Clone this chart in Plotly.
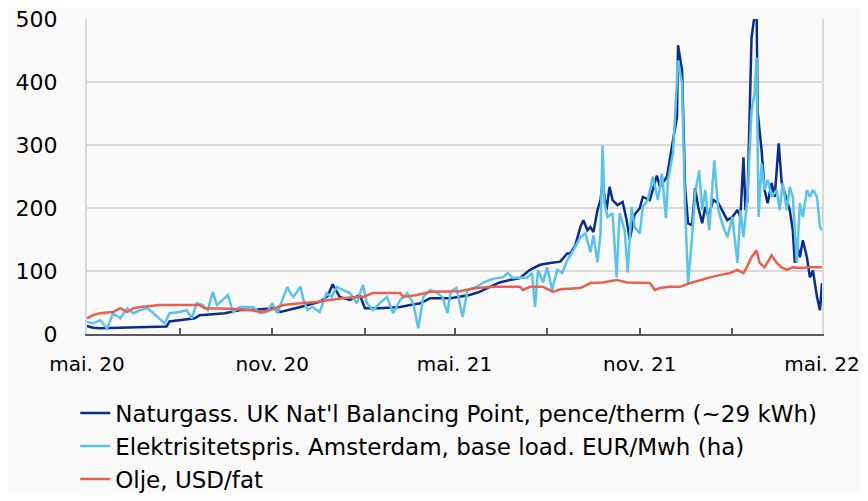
import plotly.graph_objects as go

# ---- Data ----
gas_dates = [
    "2020-05-01", "2020-05-07", "2020-05-14", "2020-06-03", "2020-06-23", "2020-07-12", "2020-07-19",
    "2020-07-22", "2020-08-01", "2020-08-16", "2020-08-21", "2020-09-15", "2020-09-30", "2020-10-10",
    "2020-11-01", "2020-11-09", "2020-11-29", "2020-12-18", "2020-12-26", "2020-12-31", "2021-01-07",
    "2021-01-17", "2021-01-27", "2021-02-01", "2021-02-16", "2021-03-08", "2021-03-18", "2021-03-28",
    "2021-04-07", "2021-04-27", "2021-05-16", "2021-05-26", "2021-06-05", "2021-06-15", "2021-06-25",
    "2021-07-05", "2021-07-15", "2021-07-25", "2021-08-04", "2021-08-14", "2021-08-21", "2021-08-24",
    "2021-08-29", "2021-09-03", "2021-09-06", "2021-09-10", "2021-09-13", "2021-09-16", "2021-09-20",
    "2021-09-23", "2021-09-25", "2021-09-29", "2021-10-02", "2021-10-05", "2021-10-10", "2021-10-15",
    "2021-10-19", "2021-10-22", "2021-10-27", "2021-11-01", "2021-11-04", "2021-11-11", "2021-11-18",
    "2021-11-21", "2021-11-28", "2021-12-01", "2021-12-04", "2021-12-08", "2021-12-09", "2021-12-13",
    "2021-12-14", "2021-12-16", "2021-12-19", "2021-12-23", "2021-12-26", "2021-12-29", "2022-01-02",
    "2022-01-05", "2022-01-08", "2022-01-13", "2022-01-18", "2022-01-22", "2022-01-27", "2022-02-01",
    "2022-02-06", "2022-02-09", "2022-02-12", "2022-02-14", "2022-02-16", "2022-02-20", "2022-02-23",
    "2022-02-25", "2022-02-26", "2022-03-02", "2022-03-05", "2022-03-08", "2022-03-12", "2022-03-15",
    "2022-03-19", "2022-03-22", "2022-03-25", "2022-03-30", "2022-04-02", "2022-04-04", "2022-04-06",
    "2022-04-09", "2022-04-12", "2022-04-16", "2022-04-19", "2022-04-22", "2022-04-26", "2022-04-29",
    "2022-05-01",
]
gas_values = [
    13, 10, 9, 10, 11, 11, 12,
    20, 22, 25, 30, 33, 38, 38,
    41, 35, 43, 51, 60, 79, 59,
    54, 62, 41, 41, 43, 46, 49,
    57, 57, 62, 67, 75, 82, 86,
    89, 102, 110, 113, 115, 128, 128,
    141, 170, 181, 165, 170, 162, 197,
    213, 240, 197, 234, 213, 205, 210,
    181, 150, 190, 200, 218, 213, 252,
    234, 250, 276, 308, 345, 459, 419,
    355, 233, 176, 173, 232, 202, 176,
    202, 186, 213, 208, 197, 181, 186,
    197, 186, 281, 197, 213, 471, 503,
    530, 355, 292, 229, 208, 240, 218,
    303, 240, 224, 197, 165, 113, 144,
    122, 149, 122, 90, 101, 59, 38,
    81,
]

el_dates = [
    "2020-05-01", "2020-05-07", "2020-05-14", "2020-05-21", "2020-05-27", "2020-06-03", "2020-06-10",
    "2020-06-16", "2020-06-23", "2020-06-30", "2020-07-06", "2020-07-12", "2020-07-17", "2020-07-22",
    "2020-08-01", "2020-08-08", "2020-08-13", "2020-08-18", "2020-08-24", "2020-08-29", "2020-09-03",
    "2020-09-07", "2020-09-12", "2020-09-18", "2020-09-23", "2020-09-30", "2020-10-13", "2020-10-20",
    "2020-10-27", "2020-11-01", "2020-11-06", "2020-11-16", "2020-11-19", "2020-11-22", "2020-11-29",
    "2020-12-02", "2020-12-06", "2020-12-11", "2020-12-18", "2020-12-25", "2020-12-30", "2021-01-04",
    "2021-01-10", "2021-01-17", "2021-01-24", "2021-01-30", "2021-02-03", "2021-02-09", "2021-02-16",
    "2021-02-23", "2021-03-01", "2021-03-08", "2021-03-15", "2021-03-21", "2021-03-26", "2021-03-31",
    "2021-04-07", "2021-04-14", "2021-04-19", "2021-04-24", "2021-04-27", "2021-05-03", "2021-05-09",
    "2021-05-14", "2021-05-23", "2021-05-29", "2021-06-05", "2021-06-12", "2021-06-18", "2021-06-23",
    "2021-06-28", "2021-07-05", "2021-07-12", "2021-07-17", "2021-07-20", "2021-07-23", "2021-07-28",
    "2021-08-01", "2021-08-06", "2021-08-11", "2021-08-16", "2021-08-21", "2021-08-27", "2021-09-03",
    "2021-09-08", "2021-09-13", "2021-09-16", "2021-09-20", "2021-09-23", "2021-09-25", "2021-09-27",
    "2021-09-30", "2021-10-05", "2021-10-09", "2021-10-12", "2021-10-17", "2021-10-20", "2021-10-24",
    "2021-10-27", "2021-11-01", "2021-11-04", "2021-11-09", "2021-11-14", "2021-11-19", "2021-11-23",
    "2021-11-27", "2021-11-29", "2021-12-04", "2021-12-09", "2021-12-13", "2021-12-16", "2021-12-19",
    "2021-12-23", "2021-12-26", "2021-12-30", "2022-01-02", "2022-01-05", "2022-01-09", "2022-01-14",
    "2022-01-18", "2022-01-23", "2022-01-27", "2022-02-01", "2022-02-06", "2022-02-09", "2022-02-12",
    "2022-02-16", "2022-02-20", "2022-02-23", "2022-02-25", "2022-02-27", "2022-03-02", "2022-03-05",
    "2022-03-08", "2022-03-12", "2022-03-17", "2022-03-20", "2022-03-23", "2022-03-27", "2022-03-30",
    "2022-04-02", "2022-04-06", "2022-04-09", "2022-04-12", "2022-04-16", "2022-04-19", "2022-04-22",
    "2022-04-26", "2022-04-29", "2022-05-01",
]
el_values = [
    19, 17, 22, 9, 33, 25, 41,
    33, 38, 41, 33, 25, 17, 33,
    35, 38, 25, 49, 46, 38, 67,
    46, 54, 62, 35, 43, 43, 33,
    35, 49, 33, 75, 65, 59, 75,
    54, 38, 43, 35, 65, 59, 75,
    70, 65, 49, 78, 49, 38, 49,
    59, 33, 54, 65, 49, 9, 59,
    70, 65, 59, 33, 67, 73, 27,
    70, 75, 81, 86, 89, 90, 97,
    89, 90, 89, 97, 43, 102, 82,
    106, 70, 102, 97, 117, 133, 154,
    160, 130, 157, 114, 160, 300, 208,
    186, 192, 90, 192, 165, 98, 202,
    170, 160, 202, 213, 250, 213, 255,
    184, 245, 287, 435, 398, 202, 81,
    154, 224, 260, 197, 229, 165, 276,
    197, 170, 154, 186, 113, 197, 154,
    218, 355, 382, 440, 186, 271, 229,
    245, 218, 229, 197, 240, 197, 234,
    218, 113, 208, 186, 229, 218, 229,
    218, 170, 165,
]

oil_dates = [
    "2020-05-01", "2020-05-07", "2020-05-14", "2020-05-27", "2020-06-03", "2020-06-10", "2020-06-16",
    "2020-06-23", "2020-07-12", "2020-08-21", "2020-08-26", "2020-09-20", "2020-10-10", "2020-10-20",
    "2020-10-30", "2020-11-12", "2020-11-29", "2020-12-15", "2020-12-28", "2021-01-10", "2021-01-24",
    "2021-01-30", "2021-02-09", "2021-03-08", "2021-03-11", "2021-03-25", "2021-04-07", "2021-05-06",
    "2021-05-23", "2021-06-08", "2021-07-05", "2021-07-08", "2021-07-15", "2021-07-28", "2021-08-07",
    "2021-08-14", "2021-09-03", "2021-09-13", "2021-09-25", "2021-10-09", "2021-10-19", "2021-11-11",
    "2021-11-16", "2021-11-21", "2021-12-01", "2021-12-11", "2021-12-21", "2021-12-31", "2022-01-10",
    "2022-01-20", "2022-01-30", "2022-02-06", "2022-02-12", "2022-02-15", "2022-02-20", "2022-02-25",
    "2022-02-28", "2022-03-05", "2022-03-12", "2022-03-17", "2022-03-22", "2022-03-27", "2022-04-02",
    "2022-04-09", "2022-04-19", "2022-05-01",
]
oil_values = [
    25, 30, 33, 35, 41, 35, 41,
    43, 46, 46, 41, 40, 38, 35,
    38, 46, 49, 51, 54, 57, 59,
    59, 65, 65, 59, 62, 67, 68,
    73, 75, 75, 70, 75, 75, 67,
    71, 73, 81, 82, 86, 82, 81,
    70, 73, 75, 75, 81, 86, 90,
    94, 97, 102, 97, 105, 122, 133,
    113, 106, 125, 113, 106, 102, 106,
    105, 106, 106,
]

series_names = [
    "Naturgass. UK Nat'l Balancing Point, pence/therm (~29 kWh)",
    "Elektrisitetspris. Amsterdam, base load. EUR/Mwh (ha)",
    "Olje, USD/fat",
]

x_tick_vals = ["2020-05-01", "2020-11-01", "2021-05-01", "2021-11-01", "2022-05-01"]
x_tick_text = ["mai. 20", "nov. 20", "mai. 21", "nov. 21", "mai. 22"]
y_tick_vals = [0, 100, 200, 300, 400, 500]

colors = ["#0a2d8c", "#5bc3ea", "#ea5f4f"]
font_family = "DejaVu Sans"

fig = go.Figure()
for name, xs, ys, col in zip(series_names,
                             [gas_dates, el_dates, oil_dates],
                             [gas_values, el_values, oil_values],
                             colors):
    fig.add_trace(go.Scatter(x=xs, y=ys, mode="lines", name=name,
                             line=dict(color=col, width=2.5), legendgroup=name))

# The page body adds an 8 px margin round the figure, so the figure is sized to
# fit inside the window and the margins are set 8 px smaller on the top/left.
fig.update_layout(
    width=852, height=485,
    margin=dict(l=79, r=38, t=11, b=159, autoexpand=False),
    paper_bgcolor="#fafafa",
    plot_bgcolor="#fafafa",
    font=dict(family=font_family, size=22, color="#000000"),
    showlegend=True,
    legend=dict(
        orientation="v",
        x=-0.016, xanchor="left",
        y=-0.183, yanchor="top",
        bgcolor="rgba(0,0,0,0)",
        font=dict(size=23),
        tracegroupgap=13,
        traceorder="normal",
    ),
)

fig.update_xaxes(
    type="date",
    range=["2020-05-01", "2022-05-01"],
    tickvals=x_tick_vals,
    ticktext=x_tick_text,
    tickfont=dict(size=20),
    ticks="inside", ticklen=6, tickwidth=2, tickcolor="#595959",
    ticklabelstandoff=11,
    ticklabeloverflow="allow",
    minor=dict(dtick="M3", tick0="2020-05-01", ticks="inside", ticklen=6,
               tickwidth=2, tickcolor="#595959", showgrid=False),
    showline=True, linecolor="#595959", linewidth=2,
    showgrid=False, zeroline=False,
    mirror=False,
)

fig.update_yaxes(
    range=[0, 500.8],
    tickvals=y_tick_vals,
    ticks="", ticklabelstandoff=23,
    ticklabeloverflow="allow",
    showgrid=True, gridcolor="#d9d9d9", gridwidth=2,
    showline=True, linecolor="#d9d9d9", linewidth=2, mirror=True,
    zeroline=False,
)

fig.write_html("out.html")
